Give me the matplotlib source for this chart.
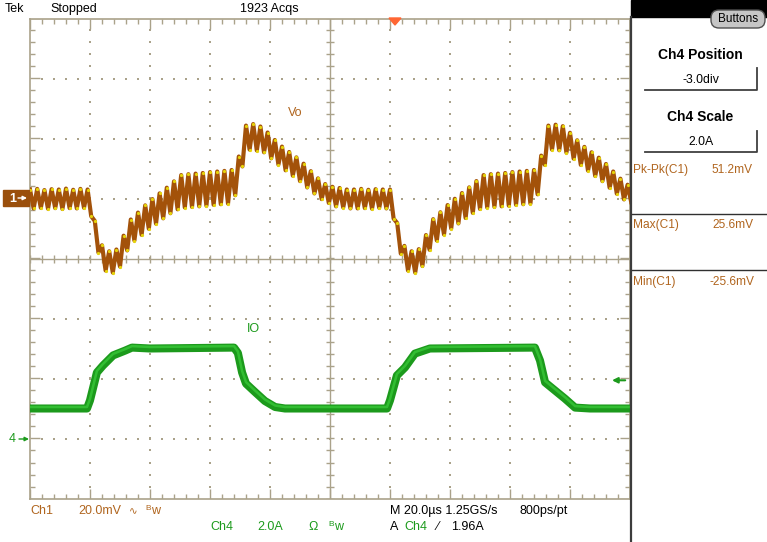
import numpy as np
import matplotlib
matplotlib.use("Agg")
import matplotlib.pyplot as plt
from matplotlib.collections import LineCollection
from matplotlib.patches import Rectangle, FancyBboxPatch

plt.rcParams['font.family'] = ['Liberation Sans', 'DejaVu Sans']

# scope settings
ch1_mv_per_div = 20.0
ch1_offset_div = 1.0
ch4_a_per_div = 2.0
ch4_offset_div = -3.0
us_per_div = 20.0

# Vo ripple extremes (mV), one value every half ripple period
vo_half_period_us = 1.2
vo_mv = [3.0, -3.3, 3.2, -3.1, 2.8, -3.4, 3.1, -3.2, 3.0, -3.5, 3.3, -3.2, 2.9, -3.3, 3.2, -3.1, 3.0,
         -5.9, -7.5, -18.0, -15.6, -24.0, -17.6, -24.7, -17.0, -22.7, -12.4, -17.3, -7.0, -14.0, -4.7, -12.1, -2.3, -10.1,
         -0.2, -8.4, 1.7, -6.6, 3.6, -4.9, 5.7, -3.6, 7.8, -3.0, 8.1, -2.8, 8.3, -2.6, 8.5, -2.4, 8.8, -2.1, 9.0, -1.9, 9.2, -1.7, 9.5,
         1.1, 14.0, 10.7, 24.3, 16.3, 24.8, 16.0, 24.0, 15.4, 22.0, 13.4, 19.5, 11.3, 17.3, 9.4, 15.5, 7.6, 13.7, 5.8, 11.6, 3.7, 9.1, 1.7, 6.7, -0.2, 4.8, -1.5,
         3.9, -2.6, 3.5, -3.0, 3.0, -3.3, 3.0, -3.3, 3.2, -3.2, 2.9, -3.4, 3.1, -3.1, 3.0, -3.3, 3.0,
         -6.7, -8.2, -18.4, -15.8, -24.0, -17.6, -24.7, -16.9, -22.5, -12.2, -17.1, -6.9, -14.0, -4.6, -12.0, -2.2, -10.0,
         -0.1, -8.3, 1.8, -6.5, 3.7, -4.8, 5.8, -3.5, 7.8, -3.0, 8.1, -2.8, 8.3, -2.6, 8.5, -2.4, 8.8, -2.1, 9.0, -1.9, 9.2, -1.7, 9.5,
         1.4, 14.3, 11.2, 24.3, 16.3, 24.6, 16.1, 24.1, 15.3, 21.9, 13.3, 19.4, 11.2, 17.2, 9.3, 15.4, 7.5, 13.6, 5.8, 11.5, 3.6, 9.0, 1.6, 6.6, -0.3, 4.6, -1.2]

# Io load current (A)
io_t = [0, 19, 20, 22.3, 24.3, 27.7, 31.7, 34, 40, 68, 69.3, 70.7, 72, 75, 78.3, 81.7, 85,
        119, 120, 122.3, 125, 128.3, 133.3, 168.3, 170, 171.7, 175, 178.3, 181.7, 186.7, 200]
io_a = [1.0, 1.0, 1.27, 2.2, 2.43, 2.77, 2.93, 3.03, 3.0, 3.03, 2.85, 2.2, 1.83, 1.55, 1.25, 1.05, 1.0,
        1.0, 1.27, 2.1, 2.37, 2.83, 3.0, 3.03, 2.6, 1.87, 1.6, 1.33, 1.03, 1.0, 1.0]

brown = '#a3520a'
brown_txt = '#b0651e'
green = '#1c9a1c'
grat = '#aaa28a'

fig = plt.figure(figsize=(7.67, 5.42), dpi=100)
ax = fig.add_axes([30 / 767, 43.5 / 542, 600 / 767, 480 / 542], zorder=1)
ax.set_xlim(0, 10)
ax.set_ylim(-4, 4)
ax.set_xticks([])
ax.set_yticks([])
for s in ax.spines.values():
    s.set_color(grat)
    s.set_linewidth(1.2)

# graticule
px = 1 / 60
segs = []
for x in np.arange(0, 10.01, 0.2):
    L = (10 if abs(x - round(x)) < 1e-6 else 5) * px
    segs.append([(x, 4), (x, 4 - L)])
    segs.append([(x, -4), (x, -4 + L)])
    segs.append([(x, -4 * px), (x, 4 * px)])
for y in np.arange(-4, 4.01, 0.2):
    L = (10 if abs(y - round(y)) < 1e-6 else 5) * px
    segs.append([(0, y), (L, y)])
    segs.append([(10, y), (10 - L, y)])
    segs.append([(5 - 4 * px, y), (5 + 4 * px, y)])
ax.add_collection(LineCollection(segs, colors=grat, linewidths=1.0))
ax.axhline(0, color=grat, lw=1.0)
ax.axvline(5, color=grat, lw=1.0)
dx, dy = [], []
for xi in [1, 2, 3, 4, 6, 7, 8, 9]:
    for y in np.arange(-3.8, 4, 0.2):
        dx.append(xi); dy.append(y)
for yi in [-3, -2, -1, 1, 2, 3]:
    for x in np.arange(0.2, 10, 0.2):
        dx.append(x); dy.append(yi)
ax.scatter(dx, dy, s=1.2, marker='s', color=grat, linewidths=0)

# traces
vo_x = np.arange(len(vo_mv)) * vo_half_period_us / us_per_div
vo_y = np.array(vo_mv) / ch1_mv_per_div + ch1_offset_div
ax.plot(vo_x, vo_y, color=brown, lw=3.0, zorder=3)
ax.plot(vo_x, vo_y, ls='none', marker='o', ms=1.3, color='#e6d40a', zorder=4)

io_x = np.array(io_t) / us_per_div
io_y = np.array(io_a) / ch4_a_per_div + ch4_offset_div
ax.plot(io_x, io_y, color=green, lw=5.8, zorder=3)
ax.plot(io_x, io_y + 1.5 * px, color='#38c838', lw=1.8, alpha=0.8, zorder=4)

ax.text(4.3, 2.42, 'Vo', color=brown_txt, fontsize=9, ha='left', va='center')
ax.text(3.62, -1.17, 'IO', color=green, fontsize=9, ha='left', va='center')
ax.annotate('', xy=(9.7, -2.03), xytext=(9.92, -2.03),
            arrowprops=dict(arrowstyle='-|>', color=green, lw=1.5, mutation_scale=8,
                            shrinkA=0, shrinkB=0))

# overlay in pixel coordinates
ov = fig.add_axes([0, 0, 1, 1], zorder=5)
ov.set_xlim(0, 767)
ov.set_ylim(542, 0)
ov.axis('off')
ov.patch.set_alpha(0)

fs = 9
ov.text(5, 9, 'Tek', fontsize=fs, va='center')
ov.text(50, 9, 'Stopped', fontsize=fs, va='center')
ov.text(240, 9, '1923 Acqs', fontsize=fs, va='center')
ov.fill([389, 401, 395], [18, 18, 25], color='#ff6633', zorder=6)

# channel markers
ov.add_patch(Rectangle((3, 190), 26, 16, color='#9a4f0c'))
ov.text(9, 198.5, '1', color='white', fontsize=9, fontweight='bold', va='center')
ov.annotate('', xy=(27, 198), xytext=(18, 198),
            arrowprops=dict(arrowstyle='-|>', color='white', lw=1, mutation_scale=6,
                            shrinkA=0, shrinkB=0))
ov.text(9, 439, '4', color=green, fontsize=9, va='center')
ov.annotate('', xy=(29, 439), xytext=(19, 439),
            arrowprops=dict(arrowstyle='-|>', color=green, lw=1, mutation_scale=6,
                            shrinkA=0, shrinkB=0))

# bottom readouts
r1, r2 = 511, 527
ov.text(30, r1, 'Ch1', color=brown_txt, fontsize=fs, va='center')
ov.text(78, r1, '20.0mV', color=brown_txt, fontsize=fs, va='center')
ov.text(129, r1, '\u223f', color=brown_txt, fontsize=7.5, va='center')
ov.text(145, r1 - 2, 'B', color=brown_txt, fontsize=6, va='center')
ov.text(151, r1, 'w', color=brown_txt, fontsize=fs, va='center')
ov.text(210, r2, 'Ch4', color=green, fontsize=fs, va='center')
ov.text(257, r2, '2.0A', color=green, fontsize=fs, va='center')
ov.text(308, r2, '\u03a9', color=green, fontsize=fs, va='center')
ov.text(328, r2 - 2, 'B', color=green, fontsize=6, va='center')
ov.text(334, r2, 'w', color=green, fontsize=fs, va='center')
ov.text(390, r1, 'M 20.0\u00b5s 1.25GS/s', fontsize=fs, va='center')
ov.text(520, r1, '800ps/pt', fontsize=fs, va='center')
ov.text(390, r2, 'A', fontsize=fs, va='center')
ov.text(404, r2, 'Ch4', color=green, fontsize=fs, va='center')
ov.text(437, r2, '\u2215', fontsize=fs, va='center')
ov.text(451, r2, '1.96A', fontsize=fs, va='center')

# right side panel
ov.add_patch(Rectangle((631, 0), 136, 17, color='black'))
ov.plot([631, 631], [17, 542], color='#3c3c3c', lw=1.6)
ov.add_patch(FancyBboxPatch((711, 10), 54, 18, boxstyle='round,pad=0,rounding_size=8',
                            facecolor='#c6c6c6', edgecolor='#505050', lw=1))
ov.text(738, 19, 'Buttons', fontsize=8.5, ha='center', va='center')

ov.text(700, 55, 'Ch4 Position', fontsize=10, fontweight='bold', ha='center', va='center')
ov.plot([645, 757, 757], [90, 90, 68], color='#404040', lw=1.3)
ov.text(701, 80, '-3.0div', fontsize=8.8, ha='center', va='center')
ov.text(700, 117, 'Ch4 Scale', fontsize=10, fontweight='bold', ha='center', va='center')
ov.plot([645, 757, 757], [152, 152, 131], color='#404040', lw=1.3)
ov.text(701, 142, '2.0A', fontsize=8.8, ha='center', va='center')

pf = 8.6
ov.text(633, 170, 'Pk-Pk(C1)', color=brown_txt, fontsize=pf, va='center')
ov.text(712, 170, '51.2mV', color=brown_txt, fontsize=pf, va='center')
ov.plot([632, 767], [214, 214], color='#303030', lw=1)
ov.text(633, 225, 'Max(C1)', color=brown_txt, fontsize=pf, va='center')
ov.text(712, 225, '25.6mV', color=brown_txt, fontsize=pf, va='center')
ov.plot([632, 767], [270, 270], color='#303030', lw=1)
ov.text(633, 282, 'Min(C1)', color=brown_txt, fontsize=pf, va='center')
ov.text(710, 282, '-25.6mV', color=brown_txt, fontsize=pf, va='center')

fig.savefig('out.png', dpi=100)
